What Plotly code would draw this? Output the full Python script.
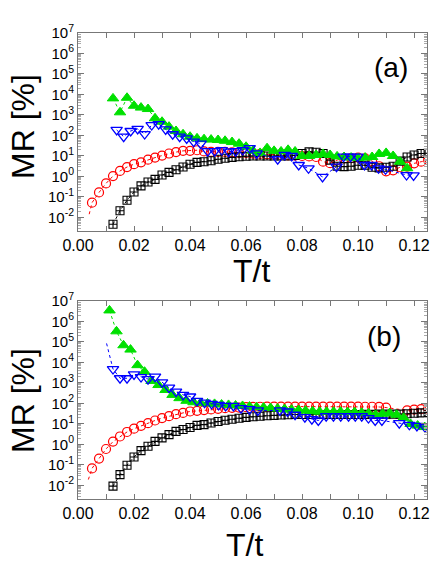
import plotly.graph_objects as go

# ---------------- data (values are log10 of MR [%]) -------------
# panel (a)
t_a_red = [0.005, 0.0075, 0.01, 0.0125, 0.015, 0.0175, 0.02, 0.0225, 0.025, 0.0275, 0.03,
           0.0325, 0.035, 0.0375, 0.04, 0.0425, 0.045, 0.0475, 0.05, 0.0525, 0.055, 0.0575,
           0.06, 0.0625, 0.065, 0.0675, 0.07, 0.0725, 0.075, 0.0775, 0.08, 0.0825, 0.085,
           0.0875, 0.09, 0.0925, 0.095, 0.0975, 0.1, 0.1025, 0.105, 0.1075, 0.11, 0.1125,
           0.115, 0.1175, 0.12, 0.1225, 0.125]
lg_a_red = [-1.28, -0.78, -0.34, 0.02, 0.27, 0.46, 0.60, 0.69, 0.82, 0.92, 1.02, 1.12, 1.19,
            1.25, 1.25, 1.28, 1.22, 1.20, 1.20, 1.20, 1.18, 1.15, 1.15, 1.12, 1.10, 1.08, 1.06,
            1.05, 1.03, 1.02, 1.00, 0.98, 0.95, 0.72, 0.65, 0.80, 0.88, 0.90, 0.92, 0.89, 0.75,
            0.50, 0.25, 0.30, 0.45, 0.48, 0.64, 0.72, 0.80]
lead_a_red = (0.004, -1.84)

t_a_blk = [0.0125, 0.015, 0.0175, 0.02, 0.0225, 0.025, 0.0275, 0.03, 0.0325, 0.035, 0.0375,
           0.04, 0.0425, 0.045, 0.0475, 0.05, 0.0525, 0.055, 0.0575, 0.06, 0.0625, 0.065,
           0.0675, 0.07, 0.0725, 0.075, 0.0775, 0.08, 0.0825, 0.085, 0.0875, 0.09, 0.0925,
           0.095, 0.0975, 0.1, 0.1025, 0.105, 0.1075, 0.11, 0.1125, 0.115, 0.1175, 0.12,
           0.1225, 0.125]
lg_a_blk = [-2.33, -1.67, -1.16, -0.76, -0.46, -0.27, -0.14, 0.07, 0.20, 0.33, 0.46, 0.60,
            0.69, 0.72, 0.77, 0.84, 0.89, 0.93, 0.96, 0.99, 1.0, 1.0, 1.0, 1.0, 1.0, 1.0, 1.02,
            1.12, 1.20, 1.18, 1.12, 0.80, 0.50, 0.48, 0.50, 0.55, 0.55, 0.45, 0.42, 0.45, 0.50,
            0.75, 0.95, 1.05, 1.12, 1.13]

t_a_grn = [0.0125, 0.015, 0.0175, 0.02, 0.0225, 0.025, 0.0275, 0.03, 0.0325, 0.035, 0.0375,
           0.04, 0.0425, 0.045, 0.0475, 0.05, 0.0525, 0.055, 0.0575, 0.06, 0.0625, 0.065,
           0.0675, 0.07, 0.0725, 0.075, 0.0775, 0.08, 0.0825, 0.085, 0.0875, 0.09, 0.0925,
           0.095, 0.0975, 0.1, 0.1025, 0.105, 0.1075, 0.11, 0.1125, 0.115, 0.1175]
lg_a_grn = [3.81, 3.13, 3.84, 3.45, 3.36, 3.29, 2.84, 2.67, 2.43, 2.22, 2.06, 1.94, 1.86,
            1.82, 1.80, 1.78, 1.74, 1.68, 1.60, 1.45, 1.25, 1.15, 1.38, 1.25, 1.22, 1.30, 1.22,
            1.00, 1.00, 1.05, 1.10, 1.05, 0.98, 0.95, 0.92, 0.90, 0.92, 0.95, 1.10, 1.15, 1.00,
            0.72, 0.40]

t_a_blu = [0.0138, 0.0163, 0.0188, 0.0213, 0.0238, 0.0263, 0.0288, 0.0313, 0.0338, 0.0363,
           0.0388, 0.0413, 0.0438, 0.0463, 0.0488, 0.0513, 0.0538, 0.0563, 0.0588, 0.0613,
           0.0638, 0.0713, 0.0738, 0.0763, 0.0788, 0.0823, 0.0873, 0.0923, 0.0948, 0.0973,
           0.0998, 0.1023, 0.1048, 0.1073, 0.1098, 0.1173, 0.1198]
lg_a_blu = [2.27, 1.94, 2.22, 2.32, 2.07, 2.51, 2.55, 2.30, 2.06, 1.94, 1.86, 1.70, 1.60,
            1.24, 1.24, 1.29, 1.21, 1.24, 1.29, 1.38, 1.13, 0.84, 1.05, 1.00, 0.56, 0.40,
            -0.02, 0.48, 0.97, 0.97, 0.97, 0.56, 0.56, 0.40, 0.35, 0.07, 0.05]

# panel (b)
t_b_red = [0.005, 0.0075, 0.01, 0.0125, 0.015, 0.0175, 0.02, 0.0225, 0.025, 0.0275, 0.03,
           0.0325, 0.035, 0.0375, 0.04, 0.0425, 0.045, 0.0475, 0.05, 0.0525, 0.055, 0.0575,
           0.06, 0.0625, 0.065, 0.0675, 0.07, 0.0725, 0.075, 0.0775, 0.08, 0.0825, 0.085,
           0.0875, 0.09, 0.0925, 0.095, 0.0975, 0.1, 0.1025, 0.105, 0.1075, 0.11,
           0.1175, 0.12, 0.1225, 0.125]
lg_b_red = [-1.17, -0.69, -0.22, 0.14, 0.39, 0.61, 0.77, 0.91, 1.04, 1.17, 1.29, 1.38, 1.48,
            1.54, 1.61, 1.64, 1.68, 1.71, 1.74, 1.77, 1.79, 1.80, 1.82, 1.83, 1.84, 1.85, 1.85,
            1.85, 1.85, 1.85, 1.85, 1.85, 1.85, 1.85, 1.85, 1.85, 1.85, 1.85, 1.85, 1.84, 1.84,
            1.83, 1.80, 1.66, 1.70, 1.72, 1.75]
lead_b_red = (0.0037, -1.71)

t_b_blk = t_a_blk
lg_b_blk = [-2.03, -1.47, -1.01, -0.61, -0.30, -0.09, 0.15, 0.32, 0.48, 0.64, 0.73, 0.83,
            0.93, 0.97, 1.05, 1.12, 1.18, 1.23, 1.28, 1.32, 1.35, 1.38, 1.40, 1.42, 1.44, 1.45,
            1.46, 1.46, 1.46, 1.46, 1.46, 1.46, 1.46, 1.46, 1.46, 1.46, 1.47, 1.47, 1.48, 1.48,
            1.48, 1.48, 1.50, 1.52, 1.54, 1.56]

t_b_grn = [0.01125, 0.01375, 0.01625, 0.01875, 0.02125, 0.02375, 0.02625, 0.02875, 0.03125,
           0.03375, 0.03625, 0.03875, 0.04125, 0.04375, 0.04625, 0.04875, 0.05125, 0.05375,
           0.05625, 0.05875, 0.06125, 0.06375, 0.06625, 0.06875, 0.07125, 0.07375, 0.07625,
           0.07875, 0.08125, 0.08375, 0.08625, 0.08875, 0.09125, 0.09375, 0.09625, 0.09875,
           0.10125, 0.10375, 0.10625, 0.10875, 0.11125, 0.11375, 0.11625, 0.11875, 0.12125,
           0.12375]
lg_b_grn = [6.54, 5.52, 4.84, 4.63, 3.87, 3.55, 3.10, 2.90, 2.66, 2.42, 2.26, 2.13, 2.06,
            2.02, 2.00, 1.98, 1.95, 1.93, 1.90, 1.88, 1.85, 1.82, 1.80, 1.78, 1.75, 1.73, 1.70,
            1.68, 1.65, 1.62, 1.60, 1.60, 1.60, 1.60, 1.58, 1.58, 1.55, 1.52, 1.45, 1.50, 1.53,
            1.45, 1.30, 1.00, 0.92, 0.85]

t_b_blu = [0.0125, 0.015, 0.0175, 0.02, 0.0225, 0.025, 0.0275, 0.03, 0.0325, 0.035, 0.0375,
           0.04, 0.0425, 0.0452, 0.0477, 0.0502, 0.0527, 0.0555, 0.0582, 0.0612, 0.0642,
           0.0721, 0.0748, 0.0775, 0.081, 0.0835, 0.0858, 0.0886, 0.0912, 0.0938, 0.0966,
           0.099, 0.1013, 0.1037, 0.1061, 0.1085, 0.1147, 0.1183, 0.121, 0.1239]
lg_b_blu = [3.68, 3.23, 3.23, 3.42, 3.29, 3.19, 3.31, 3.03, 2.77, 2.58, 2.42, 2.34, 2.13,
            2.04, 1.98, 1.93, 1.88, 1.88, 1.77, 1.72, 1.66, 1.66, 1.61, 1.45, 1.33, 1.24, 1.17,
            1.38, 1.38, 1.38, 1.38, 1.38, 1.38, 1.29, 1.17, 1.17, 1.04, 0.96, 0.91, 0.85]
lead_b_blu = (0.0102, 4.93)

y_tick_exp = [-2, -1, 0, 1, 2, 3, 4, 5, 6, 7]
x_tick_vals = [0.0, 0.02, 0.04, 0.06, 0.08, 0.10, 0.12]
x_tick_text = ["0.00", "0.02", "0.04", "0.06", "0.08", "0.10", "0.12"]

# ---------------- figure -------------
W, H = 436, 567
FONT = "Liberation Sans, Arial, Helvetica, sans-serif"
RED, BLK, GRN, BLU = "#ff0000", "#000000", "#00e000", "#0000ff"

fig = go.Figure()


def pw(v):
    return [10 ** e for e in v]


def add_series(t, lg, color, symbol, size, lw, xa, ya, lead=None):
    lx = ([lead[0]] if lead else []) + list(t)
    ly = ([lead[1]] if lead else []) + list(lg)
    fig.add_trace(go.Scatter(x=lx, y=pw(ly), mode="lines", xaxis=xa, yaxis=ya,
                             line=dict(color=color, width=1, dash="dot"),
                             showlegend=False, hoverinfo="skip"))
    fig.add_trace(go.Scatter(x=t, y=pw(lg), mode="markers", xaxis=xa, yaxis=ya,
                             marker=dict(symbol=symbol, size=size, color=color,
                                         line=dict(color=color, width=lw)),
                             showlegend=False))


for xa, ya, data in [
    ("x", "y", dict(red=(t_a_red, lg_a_red, lead_a_red), blk=(t_a_blk, lg_a_blk),
                    grn=(t_a_grn, lg_a_grn), blu=(t_a_blu, lg_a_blu, None))),
    ("x2", "y2", dict(red=(t_b_red, lg_b_red, lead_b_red), blk=(t_b_blk, lg_b_blk),
                      grn=(t_b_grn, lg_b_grn), blu=(t_b_blu, lg_b_blu, lead_b_blu))),
]:
    assert len(data["red"][0]) == len(data["red"][1])
    assert len(data["blk"][0]) == len(data["blk"][1])
    assert len(data["grn"][0]) == len(data["grn"][1])
    assert len(data["blu"][0]) == len(data["blu"][1])
    add_series(data["red"][0], data["red"][1], RED, "circle-open", 9, 1.2, xa, ya, lead=data["red"][2])
    add_series(data["blk"][0], data["blk"][1], BLK, "square-cross-open", 8, 1.1, xa, ya)
    add_series(data["grn"][0], data["grn"][1], GRN, "triangle-up", 10, 1, xa, ya)
    add_series(data["blu"][0], data["blu"][1], BLU, "triangle-down-open", 10, 1.3, xa, ya, lead=data["blu"][2])

minor_y = [m * 10.0 ** e for e in range(-3, 7) for m in range(2, 10)]
AX = "#777777"

xcommon = dict(range=[0, 0.1246], tickvals=x_tick_vals, ticktext=x_tick_text,
               ticks="inside", ticklen=5, tickcolor=AX, showline=True, linecolor=AX,
               linewidth=1, mirror="ticks", showgrid=False, zeroline=False,
               automargin=False,
               tickfont=dict(family=FONT, size=16, color="black"),
               minor=dict(tickvals=[0.01, 0.03, 0.05, 0.07, 0.09, 0.11], ticks="inside",
                          ticklen=5, tickcolor=AX),
               domain=[78 / W, 427 / W])
ycommon = dict(type="log", range=[-2.66, 7.0], tickvals=pw(y_tick_exp),
               ticktext=["10<sup>%s</sup>" % e for e in y_tick_exp],
               ticks="inside", ticklen=6, tickcolor=AX, showline=True, linecolor=AX,
               linewidth=1, mirror="ticks", showgrid=False, zeroline=False,
               automargin=False,
               tickfont=dict(family=FONT, size=15, color="black"),
               minor=dict(tickvals=minor_y, ticks="inside", ticklen=3, tickcolor="#aaaaaa"))

fig.update_layout(
    width=W, height=H, margin=dict(l=0, r=0, t=0, b=0, autoexpand=False),
    paper_bgcolor="white", plot_bgcolor="white",
    xaxis=dict(**xcommon, anchor="y"),
    yaxis=dict(**ycommon, anchor="x", domain=[1 - 231 / H, 1 - 33 / H]),
    xaxis2=dict(**xcommon, anchor="y2"),
    yaxis2=dict(**ycommon, anchor="x2", domain=[1 - 499 / H, 1 - 301 / H]),
    font=dict(family=FONT, color="black"),
)

ann = [
    ("MR [%]", 23, 127, -90, 32),
    ("MR [%]", 23, 401, -90, 32),
    ("T/t", 251, 271, 0, 32),
    ("T/t", 244, 545, 0, 32),
    ("(a)", 391, 67, 0, 28),
    ("(b)", 384, 336, 0, 28),
]
for text, px, py, ang, sz in ann:
    fig.add_annotation(text=text, x=px / W, y=1 - py / H, xref="paper", yref="paper",
                       showarrow=False, textangle=ang, xanchor="center", yanchor="middle",
                       font=dict(family=FONT, size=sz, color="black"))

fig.write_html("out.html", config={"displayModeBar": False},
               post_script="document.body.style.margin='0';document.body.style.padding='0';"
                           "document.body.style.overflow='hidden';")
